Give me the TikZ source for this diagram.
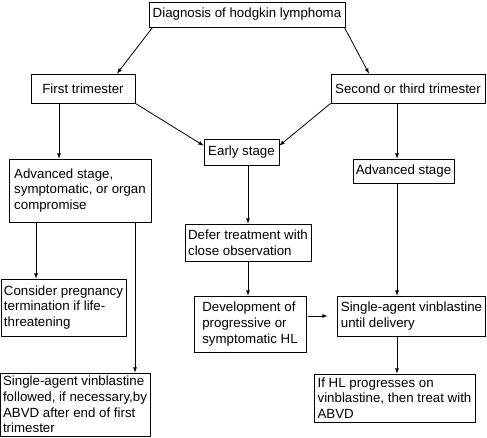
\documentclass[tikz,border=0pt]{standalone}
\usepackage{fontspec}
\setmainfont{Liberation Sans}
\usepackage{tikz}
\tikzset{box/.style = {draw, line width=0.8pt, align=left, inner xsep=3pt, inner ysep=1pt}}
\tikzset{label box/.style = {draw, line width=0.8pt, align=center, text centered, inner sep=1pt}}
\tikzset{arr/.style = {line width=0.8pt, -latex}}
\begin{document}
\begin{tikzpicture}[x=1pt, y=-1pt,
  font=\fontsize{13.3}{15.8}\selectfont
]
\useasboundingbox (0,0) rectangle (487,437);

\node[label box, minimum width=196pt, minimum height=25pt] (b0) at (247,14.5) {Diagnosis of hodgkin lymphoma};
\node[label box, minimum width=104pt, minimum height=29pt] (b1) at (83,88.5) {First trimester};
\node[label box, minimum width=154pt, minimum height=29pt] (b2) at (408,88.5) {Second or third trimester};
\node[label box, minimum width=75pt, minimum height=26pt] (b3) at (241.5,152) {Early stage};
\node[box, minimum width=142pt, minimum height=63pt] (b4) at (80,190.5) {
  Advanced stage,\\
  symptomatic, or organ\\
  compromise
};
\node[label box, minimum width=101pt, minimum height=24pt] (b5) at (403.5,171) {Advanced stage};
\node[box, minimum width=126pt, minimum height=37pt] (b6) at (248,242.5) {
  Defer treatment with\\
  close observation
};
\node[box, minimum width=125pt, minimum height=57pt] (b7) at (63.5,307.5) {
  Consider pregnancy\\
  termination if life-\\
  threatening
};
\node[box, minimum width=112pt, minimum height=56pt] (b8) at (250,324) {
  Development of\\
  progressive or\\
  symptomatic HL
};
\node[box, minimum width=147pt, minimum height=40pt] (b9) at (411.5,316) {
  Single-agent vinblastine\\
  until delivery
};
\node[box, minimum width=144pt, minimum height=63pt] (b10) at (75,404.5) {
  Single-agent vinblastine\\
  followed, if necessary,by\\
  ABVD after end of first\\
  trimester
};
\node[box, minimum width=161pt, minimum height=48pt] (b11) at (394.5,398) {
  If HL progresses on\\
  vinblastine, then treat with\\
  ABVD
};

\draw[arr]  ([xshift=4pt]b0.south west) -- ([xshift=34pt]b1.north);
\draw[arr]  ([xshift=-1pt]b0.south east) -- ([xshift=-39pt]b2.north);
\draw[arr]  (b1.south east) -- ([yshift=-7pt]b3.north west);
\draw[arr]  (b2.south west) -- ([yshift=-7pt]b3.north east);
\draw[arr]  ([xshift=-24pt]b1.south) -- ([xshift=-24pt]b1.south |- b4.north);
\draw[arr]  ([xshift=-11pt]b2.south) -- ([xshift=-11pt]b2.south |- b5.north);
\draw[arr]  (b6.north |- b3.south) -- (b6.north);
\draw[arr]  (b6.south) -- (b6.south |- b8.north);
\draw[arr, shorten <=2pt, shorten >=10pt]  (b8.east |- b9.west) -- (b9.west);
\draw[arr]  ([xshift=-6.5pt]b5.south) -- ([xshift=-6.5pt]b5.south |- b9.north);
\draw[arr]  ([xshift=-14.5pt]b9.south) -- ([xshift=-14.5pt]b9.south |- b11.north);
\draw[arr]  ([xshift=-44pt]b4.south) -- ([xshift=-44pt]b4.south |- b7.north);
\draw[arr]  ([xshift=55pt]b4.south) -- ([xshift=55pt]b4.south |- b10.north);

\end{tikzpicture}
\end{document}
